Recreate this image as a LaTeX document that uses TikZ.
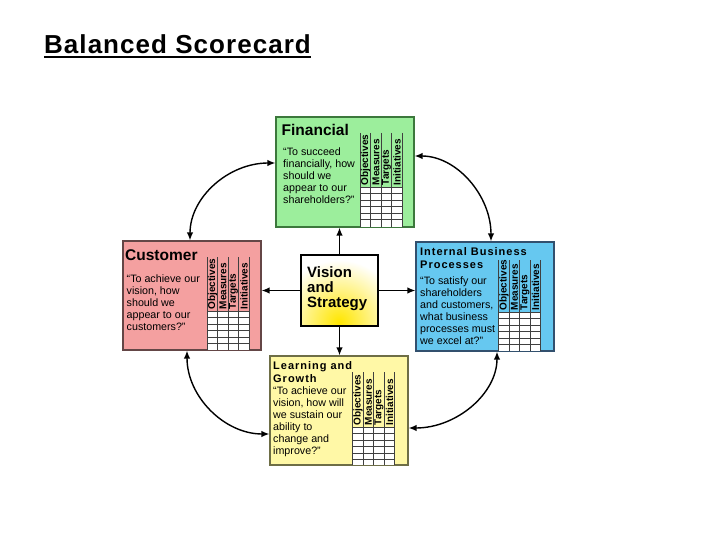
\documentclass[tikz,border=0pt]{standalone}
\usepackage{fontspec}
\setmainfont{Liberation Sans}
\usetikzlibrary{arrows.meta,calc}
\definecolor{finfill}{RGB}{156,238,156}
\definecolor{finbord}{RGB}{60,120,60}
\definecolor{cusfill}{RGB}{244,160,160}
\definecolor{cusbord}{RGB}{100,70,70}
\definecolor{intfill}{RGB}{102,200,240}
\definecolor{intbord}{RGB}{50,80,110}
\definecolor{lrnfill}{RGB}{255,248,166}
\definecolor{lrnbord}{RGB}{110,110,70}
\definecolor{glow}{RGB}{255,230,0}
\tikzset{
  box/.style={rectangle, line width=1.2pt, inner sep=0pt},
  gridline/.style={draw=black!75, line width=0.7pt},
  colhead/.style={rotate=90, anchor=west, inner sep=0pt, font=\bfseries\fontsize{10}{10}\selectfont},
  quote/.style={anchor=north west, align=left, inner sep=0pt, font=\fontsize{10.7}{12}\selectfont},
  bighead/.style={anchor=base west, inner sep=0pt, font=\bfseries\fontsize{15.5}{15.5}\selectfont},
  smallhead/.style={anchor=north west, align=left, inner sep=0pt, font=\bfseries\fontsize{11}{13}\selectfont\addfontfeatures{LetterSpace=9}},
  arr/.style={line width=1.4pt, -{Latex[length=8pt,width=6.5pt]}},
  dbl/.style={line width=1.4pt, {Latex[length=8pt,width=6.5pt]}-{Latex[length=8pt,width=6.5pt]}},
}
\newcommand{\scgrid}[4]{% #1 left x, #2 header top, #3 grid top, #4 bottom
  \fill[white] (#1,#3) rectangle ({#1+42},#4);
  \foreach \i in {0,...,4} \draw[gridline] ({#1+10.5*\i},#2) -- ({#1+10.5*\i},#4);
  \foreach \j in {0,...,5} \draw[gridline] (#1,{#3+6.5*\j}) -- ({#1+42},{#3+6.5*\j});
  \foreach \t [count=\k from 0] in {Objectives,Measures,Targets,Initiatives}
    \node[colhead] at ({#1+10.5*\k+5.6},{#3-1.5}) {\t};
}
\begin{document}
\begin{tikzpicture}[x=1pt,y=-1pt]
\useasboundingbox (0,0) rectangle (720,540);
\fill[white] (0,0) rectangle (720,540);

% title
\node[anchor=base west, inner sep=0pt, font=\bfseries\fontsize{26}{26}\selectfont\addfontfeatures{LetterSpace=4}] (title) at (44,53.5) {Balanced Scorecard};
\draw[line width=2pt] ([yshift=-4pt]title.base west) -- ([yshift=-4pt]title.base east);

% vision glow (behind the vision box)
\begin{scope}
  \clip (301,255) rectangle (378,326);
  \fill[white] (301,255) rectangle (378,326);
  \shade[inner color=glow, outer color=white] (339,322) circle (62);
\end{scope}

% boxes
\node[box, fill=finfill, draw=finbord, minimum width=138, minimum height=110] (fin) at (345,172) {};
\node[box, fill=cusfill, draw=cusbord, minimum width=138, minimum height=109] (cus) at (192,295.5) {};
\node[box, fill=intfill, draw=intbord, minimum width=138, minimum height=109] (int) at (485,296.5) {};
\node[box, fill=lrnfill, draw=lrnbord, minimum width=138, minimum height=109] (lrn) at (339,410.5) {};
\node[box, draw=black, minimum width=77, minimum height=71] (vis) at (339.5,290.5) {};

% grids
\scgrid{360}{133}{187}{227}
\scgrid{207}{257}{311}{350}
\scgrid{498.5}{260}{312}{351}
\scgrid{352.5}{372}{427}{465}

% texts
\node[bighead] (finh) at (281.5,136) {Financial};
\node[quote] (finq) at (283,148) {“To succeed\\financially, how\\should we\\appear to our\\shareholders?”};

\node[bighead] (cush) at (125,260) {Customer};
\node[quote] (cusq) at (126.5,274.5) {“To achieve our\\vision, how\\should we\\appear to our\\customers?”};

\node[smallhead] (inth) at (420,247) {Internal Business\\Processes};
\node[quote] (intq) at (420,276.5) {“To satisfy our\\shareholders\\and customers,\\what business\\processes must\\we excel at?”};

\node[smallhead] (lrnh) at (273,361.5) {Learning and\\Growth};
\node[quote] (lrnq) at (273,386.5) {“To achieve our\\vision, how will\\we sustain our\\ability to\\change and\\improve?”};

\node[anchor=north west, align=left, inner sep=0pt, font=\bfseries\fontsize{15}{15}\selectfont] (vist) at (307,266) {Vision\\and\\Strategy};

% arrows from vision
\draw[arr] (vis.north) -- (vis.north |- fin.south);
\draw[arr] (vis.west) -- (vis.west -| cus.east);
\draw[arr] (vis.east) -- (vis.east -| int.west);
\draw[arr] (vis.south) -- (vis.south |- lrn.north);

% curved arrows
\coordinate (fw) at ([yshift=9pt]fin.west);
\coordinate (cn) at ([xshift=-2pt]cus.north);
\coordinate (fe) at ([yshift=16pt]fin.east);
\coordinate (intn) at ([xshift=6pt]int.north);
\coordinate (cs) at ([xshift=-5pt]cus.south);
\coordinate (lw) at ([yshift=-23.5pt]lrn.west);
\coordinate (is) at ([xshift=12pt]int.south);
\coordinate (le) at ([yshift=-17.5pt]lrn.east);
\draw[dbl] (fw) .. controls +(-47,0) and +(0,-43) .. (cn);
\draw[dbl] (fe) .. controls +(42,0) and +(0,-46) .. (intn);
\draw[dbl] (cs) .. controls +(0,46) and +(-45,0) .. (lw);
\draw[dbl] (is) .. controls +(0,42) and +(48,0) .. (le);
\end{tikzpicture}
\end{document}
